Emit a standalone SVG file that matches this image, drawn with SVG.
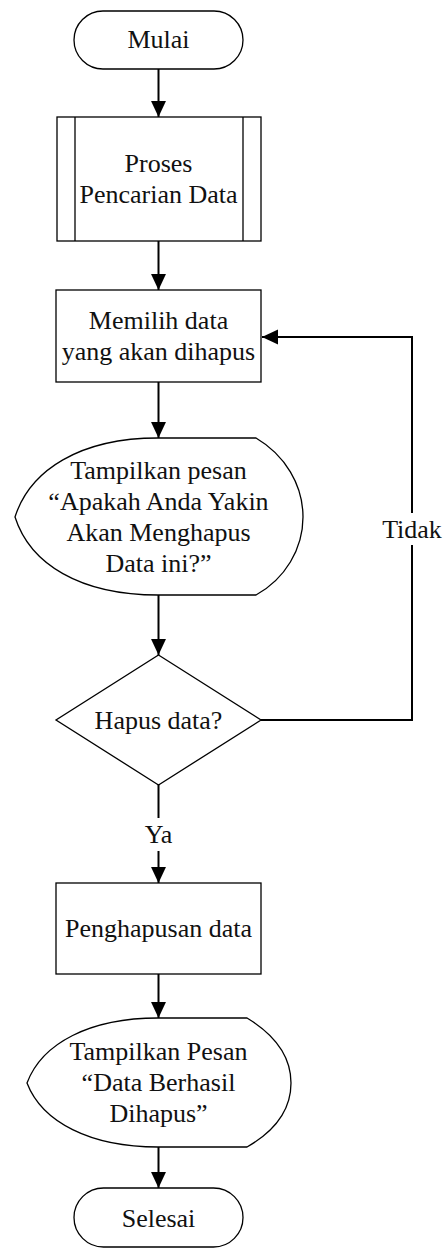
<svg xmlns="http://www.w3.org/2000/svg" width="446" height="1254" viewBox="0 0 446 1254">
<style>
.s{fill:#fff;stroke:#000;stroke-width:1.3}
.c{fill:none;stroke:#000;stroke-width:2}
text{font-family:"Liberation Serif","Times New Roman",serif;font-size:26px;fill:#111;text-anchor:middle}
</style>
<defs>
<marker id="ah" markerUnits="userSpaceOnUse" markerWidth="16" markerHeight="16" viewBox="0 0 15 14" refX="15" refY="7" orient="auto">
<path d="M0,0 L15,7 L0,14 Z" fill="#000"/>
</marker>
</defs>
<rect width="446" height="1254" fill="#fff"/>
<g id="connectors">
<line class="c" x1="158.5" y1="69" x2="158.5" y2="117" marker-end="url(#ah)"/>
<line class="c" x1="158.5" y1="241" x2="158.5" y2="290" marker-end="url(#ah)"/>
<line class="c" x1="158.5" y1="382" x2="158.5" y2="438" marker-end="url(#ah)"/>
<line class="c" x1="158.5" y1="595" x2="158.5" y2="655" marker-end="url(#ah)"/>
<polyline class="c" points="261,720 412,720 412,545"/>
<polyline class="c" points="412,513 412,337 262,337" marker-end="url(#ah)"/>
<text x="412" y="538">Tidak</text>
<line class="c" x1="158.5" y1="785" x2="158.5" y2="818"/>
<line class="c" x1="158.5" y1="851" x2="158.5" y2="883" marker-end="url(#ah)"/>
<text x="158.5" y="843">Ya</text>
<line class="c" x1="158.5" y1="974" x2="158.5" y2="1018" marker-end="url(#ah)"/>
<line class="c" x1="158.5" y1="1147" x2="158.5" y2="1188" marker-end="url(#ah)"/>
</g>
<g id="mulai">
<rect class="s" x="74" y="11" width="169" height="58" rx="29"/>
<text x="158.5" y="48">Mulai</text>
</g>
<g id="proses">
<rect class="s" x="57" y="117" width="204" height="124"/>
<line class="s" x1="75" y1="117" x2="75" y2="241"/>
<line class="s" x1="243" y1="117" x2="243" y2="241"/>
<text x="158.5" y="172">Proses</text>
<text x="158.5" y="203">Pencarian Data</text>
</g>
<g id="memilih">
<rect class="s" x="56" y="290" width="205" height="92"/>
<text x="158.5" y="329">Memilih data</text>
<text x="158.5" y="360">yang akan dihapus</text>
</g>
<g id="tampil1">
<path class="s" d="M15,517 C30,470 80,438 158,438 L256,438 C285,455 303,485 303,517 C303,549 285,579 256,595 L158,595 C80,595 30,564 15,517 Z"/>
<text x="158.5" y="479">Tampilkan pesan</text>
<text x="158.5" y="510">“Apakah Anda Yakin</text>
<text x="158.5" y="541">Akan Menghapus</text>
<text x="158.5" y="572">Data ini?”</text>
</g>
<g id="hapus">
<polygon class="s" points="158.5,655 261,720 158.5,785 56,720"/>
<text x="158.5" y="729">Hapus data?</text>
</g>
<g id="penghapusan">
<rect class="s" x="56" y="883" width="205" height="91"/>
<text x="158.5" y="937">Penghapusan data</text>
</g>
<g id="tampil2">
<path class="s" d="M27,1083 C42,1043 90,1018 158,1018 L247,1018 C275,1035 291,1057 291,1083 C291,1109 275,1131 247,1147 L158,1147 C90,1147 42,1122 27,1083 Z"/>
<text x="158.5" y="1060">Tampilkan Pesan</text>
<text x="158.5" y="1091">“Data Berhasil</text>
<text x="158.5" y="1122">Dihapus”</text>
</g>
<g id="selesai">
<rect class="s" x="74" y="1188" width="169" height="59" rx="29.5"/>
<text x="158.5" y="1227">Selesai</text>
</g>
</svg>
